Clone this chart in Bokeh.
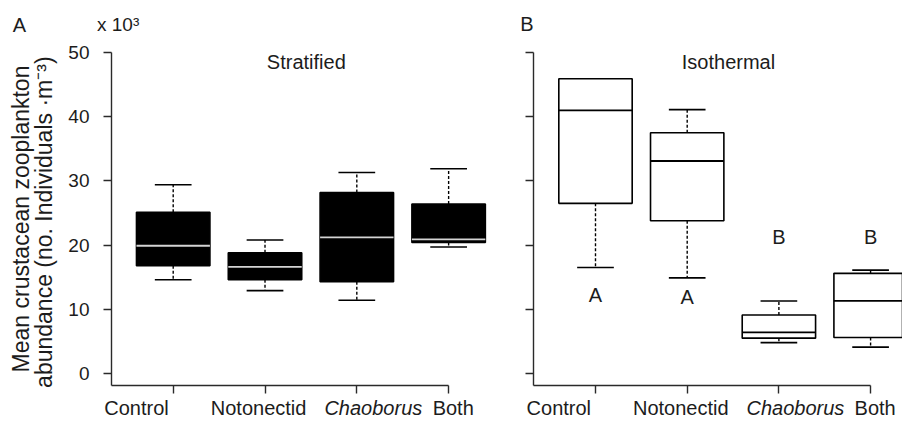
from bokeh.plotting import figure
from bokeh.layouts import row
from bokeh.models import ColumnDataSource, FixedTicker, Range1d
from bokeh.core.properties import value
from bokeh.embed import file_html
from bokeh.resources import INLINE

# ---------------- data ----------------
categories = ["Control", "Notonectid", "Chaoborus", "Both"]
category_style = ["normal", "normal", "italic", "normal"]
category_pos = [1, 2, 3, 4]
label_pos = [0.60, 1.93, 3.18, 4.05]
y_ticks = [0, 10, 20, 30, 40, 50]

strat_low = [14.6, 12.9, 11.4, 19.7]
strat_q1 = [16.8, 14.6, 14.3, 20.4]
strat_med = [19.9, 16.6, 21.2, 20.9]
strat_q3 = [25.1, 18.8, 28.2, 26.4]
strat_high = [29.4, 20.8, 31.3, 31.9]

iso_low = [16.5, 14.9, 4.8, 4.1]
iso_q1 = [26.5, 23.8, 5.5, 5.6]
iso_med = [41.0, 33.1, 6.4, 11.3]
iso_q3 = [45.9, 37.5, 9.1, 15.6]
iso_high = [45.9, 41.1, 11.3, 16.1]

iso_letters = ["A", "A", "B", "B"]
iso_letter_y = [12.2, 11.9, 21.2, 21.2]

# ---------------- style / layout ----------------
FONT = value("Liberation Sans")
TXT = "#1c1c1c"
AX = "#2a2a2a"
BOX_W = 0.8
CAP_W = 0.4
FIG_H = 421
Y_START, Y_END = -7.48, 58.10      # full figure height in data units
Y_AXIS = -1.87                      # where the x-axis line sits
LABEL_Y = -5.45                     # category label row
HEAD_Y = 54.3                       # panel letter row


def make_panel(low, q1, med, q3, high, width, x_start, x_end, y_axis_x,
               fill, med_color, title, show_ylabels):
    p = figure(width=width, height=FIG_H,
               x_range=Range1d(x_start, x_end), y_range=Range1d(Y_START, Y_END),
               output_backend="svg", toolbar_location=None,
               min_border_left=0, min_border_right=0,
               min_border_top=0, min_border_bottom=0)
    p.outline_line_color = None
    p.grid.visible = False
    p.background_fill_color = "white"
    p.border_fill_color = "white"

    src = ColumnDataSource(dict(
        x=category_pos,
        x0=[c - BOX_W / 2 for c in category_pos],
        x1=[c + BOX_W / 2 for c in category_pos],
        c0=[c - CAP_W / 2 for c in category_pos],
        c1=[c + CAP_W / 2 for c in category_pos],
        low=low, q1=q1, med=med, q3=q3, high=high,
    ))
    # whiskers (dashed)
    p.segment(x0="x", y0="q3", x1="x", y1="high", source=src,
              line_color="black", line_width=1.4, line_dash="3 2")
    p.segment(x0="x", y0="q1", x1="x", y1="low", source=src,
              line_color="black", line_width=1.4, line_dash="3 2")
    # caps
    p.segment(x0="c0", y0="high", x1="c1", y1="high", source=src,
              line_color="black", line_width=1.6)
    p.segment(x0="c0", y0="low", x1="c1", y1="low", source=src,
              line_color="black", line_width=1.6)
    # boxes
    p.vbar(x="x", width=BOX_W, top="q3", bottom="q1", source=src,
           fill_color=fill, line_color="black", line_width=1.6)
    # medians
    p.segment(x0="x0", y0="med", x1="x1", y1="med", source=src,
              line_color=med_color, line_width=1.8)

    # axes drawn at fixed locations inside the frame
    p.xaxis.fixed_location = Y_AXIS
    p.xaxis.ticker = FixedTicker(ticks=category_pos)
    p.xaxis.bounds = (y_axis_x, 4)
    p.xaxis.major_label_overrides = {c: "" for c in category_pos}
    p.yaxis.fixed_location = y_axis_x
    p.yaxis.ticker = FixedTicker(ticks=y_ticks)
    p.yaxis.bounds = (Y_AXIS, 50)
    for ax in (p.xaxis, p.yaxis):
        ax.axis_line_color = AX
        ax.axis_line_width = 1.4
        ax.major_tick_line_color = AX
        ax.major_tick_line_width = 1.4
        ax.major_tick_out = 8
        ax.major_tick_in = 0
        ax.minor_tick_line_color = None
    if show_ylabels:
        p.yaxis.major_label_text_font = "Liberation Sans"
        p.yaxis.major_label_text_font_size = "19px"
        p.yaxis.major_label_text_color = TXT
        p.yaxis.major_label_standoff = 14
        p.yaxis.axis_label = "Mean crustacean zooplankton\nabundance  (no. Individuals \u00b7m\u207b\u00b3)"
        p.yaxis.axis_label_text_font = "Liberation Sans"
        p.yaxis.axis_label_text_font_size = "23px"
        p.yaxis.axis_label_text_font_style = "normal"
        p.yaxis.axis_label_text_color = TXT
        p.yaxis.axis_label_standoff = 8
        p.yaxis.axis_label_text_line_height = 0.9
    else:
        p.yaxis.major_label_overrides = {t: "" for t in y_ticks}

    # category labels
    lab_src = ColumnDataSource(dict(x=label_pos, y=[LABEL_Y] * 4,
                                    text=categories, style=category_style))
    p.text(x="x", y="y", text="text", source=lab_src,
           text_font=FONT, text_font_size=value("20px"),
           text_font_style="style", text_color=TXT,
           text_align="center", text_baseline="middle")
    # panel title
    p.text(x=[2.45], y=[48.55], text=[title], text_font=FONT,
           text_font_size=value("20px"), text_color=TXT,
           text_align="center", text_baseline="middle")
    return p


left = make_panel(strat_low, strat_q1, strat_med, strat_q3, strat_high,
                  500, -0.881, 4.565, 0.328,
                  "black", "#d4d4d4", "Stratified", True)
right = make_panel(iso_low, iso_q1, iso_med, iso_q3, iso_high,
                   402, -0.036, 4.348, 0.327,
                   "white", "black", "Isothermal", False)

# significance letters
let_src = ColumnDataSource(dict(x=category_pos, y=iso_letter_y, text=iso_letters))
right.text(x="x", y="y", text="text", source=let_src,
           text_font=FONT, text_font_size=value("20px"),
           text_color=TXT, text_align="center", text_baseline="middle")

# panel letters & multiplier
left.text(x=[-0.674], y=[HEAD_Y], text=["A"], text_font=FONT,
          text_font_size=value("20px"), text_color=TXT,
          text_align="center", text_baseline="middle")
left.text(x=[0.17], y=[HEAD_Y + 0.1], text=["x 10\u00b3"], text_font=FONT,
          text_font_size=value("19px"), text_color=TXT,
          text_align="left", text_baseline="middle")
right.text(x=[0.253], y=[HEAD_Y + 0.2], text=["B"], text_font=FONT,
           text_font_size=value("20px"), text_color=TXT,
           text_align="center", text_baseline="middle")

layout = row(left, right, spacing=0)
open("out.html", "w").write(file_html(layout, INLINE))
